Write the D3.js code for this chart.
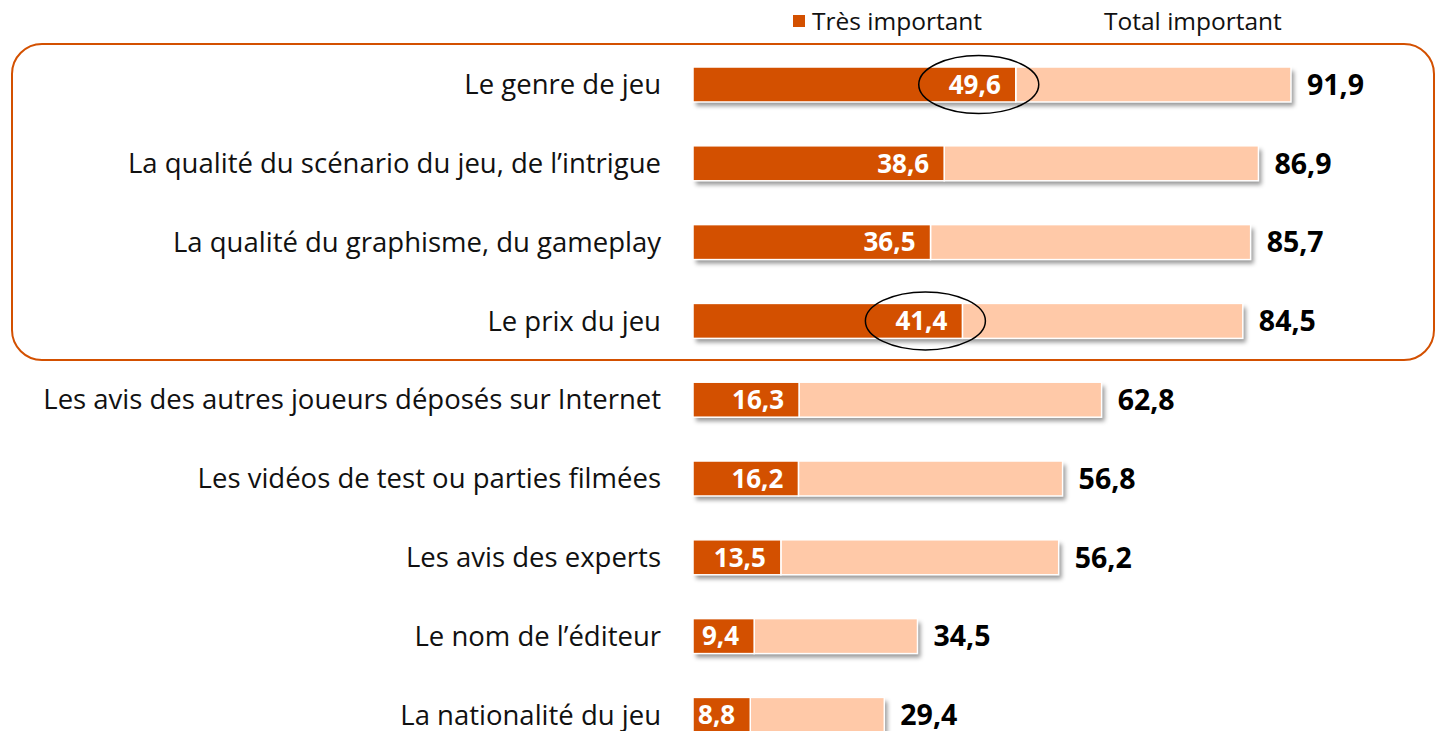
<!DOCTYPE html>
<html><head><meta charset="utf-8">
<script src="https://cdn.jsdelivr.net/npm/d3@7"></script>
<style>html,body{margin:0;padding:0;background:#fff;overflow:hidden}svg{display:block}</style>
</head><body>
<script>
const categories = ["Le genre de jeu", "La qualité du scénario du jeu, de l’intrigue", "La qualité du graphisme, du gameplay", "Le prix du jeu", "Les avis des autres joueurs déposés sur Internet", "Les vidéos de test ou parties filmées", "Les avis des experts", "Le nom de l’éditeur", "La nationalité du jeu"];
const tresImportant = [49.6, 38.6, 36.5, 41.4, 16.3, 16.2, 13.5, 9.4, 8.8];
const totalImportant = [91.9, 86.9, 85.7, 84.5, 62.8, 56.8, 56.2, 34.5, 29.4];
const seriesNames = ["Très important", "Total important"];
const highlighted = ["Le genre de jeu", "Le prix du jeu"];
const fmt = v => v.toFixed(1).replace(".", ",");

const W = 1437, H = 731;
const dark = "#D35000", light = "#FFC9A8";
const font = "'Open Sans', sans-serif";

const svg = d3.select("body").append("svg").attr("width", W).attr("height", H);
const defs = svg.append("defs");
const f = defs.append("filter").attr("id","sh").attr("x","-10%").attr("y","-30%").attr("width","130%").attr("height","180%");
f.append("feDropShadow").attr("dx",3).attr("dy",4).attr("stdDeviation",2.2).attr("flood-color","#000").attr("flood-opacity",0.4);

const x = d3.scaleLinear().domain([0, 91.9]).range([693, 1291]);
const step = 78.8;
const y = d3.scaleBand().domain(categories).range([45.1, 45.1 + step*categories.length]).paddingInner(0.556).paddingOuter(0.278);
const bh = y.bandwidth();

// highlight box
svg.append("rect").attr("x", 12).attr("y", 44).attr("width", 1422).attr("height", 316)
  .attr("rx", 30).attr("ry", 30).attr("fill","none").attr("stroke", dark).attr("stroke-width", 2);

const rows = svg.append("g").selectAll("g").data(categories).join("g");
rows.append("rect").attr("x", x(0)).attr("y", c => y(c)).attr("height", bh)
  .attr("width", (c,i) => x(totalImportant[i]) - x(0)).attr("fill", "#fff").attr("filter","url(#sh)");
rows.append("rect").attr("x", (c,i) => x(tresImportant[i])).attr("y", c => y(c)).attr("height", bh)
  .attr("width", (c,i) => x(totalImportant[i]) - x(tresImportant[i])).attr("fill", light)
  .attr("stroke","#fff").attr("stroke-width",1.5);
rows.append("rect").attr("x", x(0)).attr("y", c => y(c)).attr("height", bh)
  .attr("width", (c,i) => x(tresImportant[i]) - x(0)).attr("fill", dark)
  .attr("stroke","#fff").attr("stroke-width",1.5);

rows.append("text").attr("x", (c,i) => x(tresImportant[i]) - 15).attr("y", c => y(c) + bh/2)
  .attr("dy","0.36em").attr("text-anchor","end").attr("fill","#fff").attr("font-family",font)
  .attr("font-weight","bold").attr("font-size",26).text((c,i) => fmt(tresImportant[i]));
rows.append("text").attr("x", (c,i) => x(totalImportant[i]) + 16).attr("y", c => y(c) + bh/2)
  .attr("dy","0.36em").attr("text-anchor","start").attr("fill","#000").attr("font-family",font)
  .attr("font-weight","bold").attr("font-size",28.5).text((c,i) => fmt(totalImportant[i]));

const labels = rows.append("text").attr("x", 661).attr("y", c => y(c) + bh/2)
  .attr("dy","0.35em").attr("text-anchor","end").attr("fill","#111").attr("font-family",font)
  .attr("font-size",24).text(c => c);
let maxW = 0; labels.each(function(){ maxW = Math.max(maxW, this.getComputedTextLength()); });
labels.attr("font-size", 24 * 618 / maxW);

// annotation ellipses
highlighted.forEach(c => {
  const i = categories.indexOf(c);
  svg.append("ellipse").attr("cx", x(tresImportant[i]) - 37).attr("cy", y(c) + bh/2)
    .attr("rx", 60).attr("ry", 29).attr("fill","none").attr("stroke","#000").attr("stroke-width",1.5);
});

// legend
const lg = svg.append("g");
lg.append("rect").attr("x", 793).attr("y", 15).attr("width", 12).attr("height", 12).attr("fill", dark);
lg.append("text").attr("x", 812).attr("y", 21).attr("dy","0.36em").attr("font-family",font)
  .attr("font-size",24.5).attr("fill","#111").text(seriesNames[0]);
lg.append("text").attr("x", 1104).attr("y", 21).attr("dy","0.36em").attr("font-family",font)
  .attr("font-size",24.5).attr("fill","#111").text(seriesNames[1]);
</script>
</body></html>
